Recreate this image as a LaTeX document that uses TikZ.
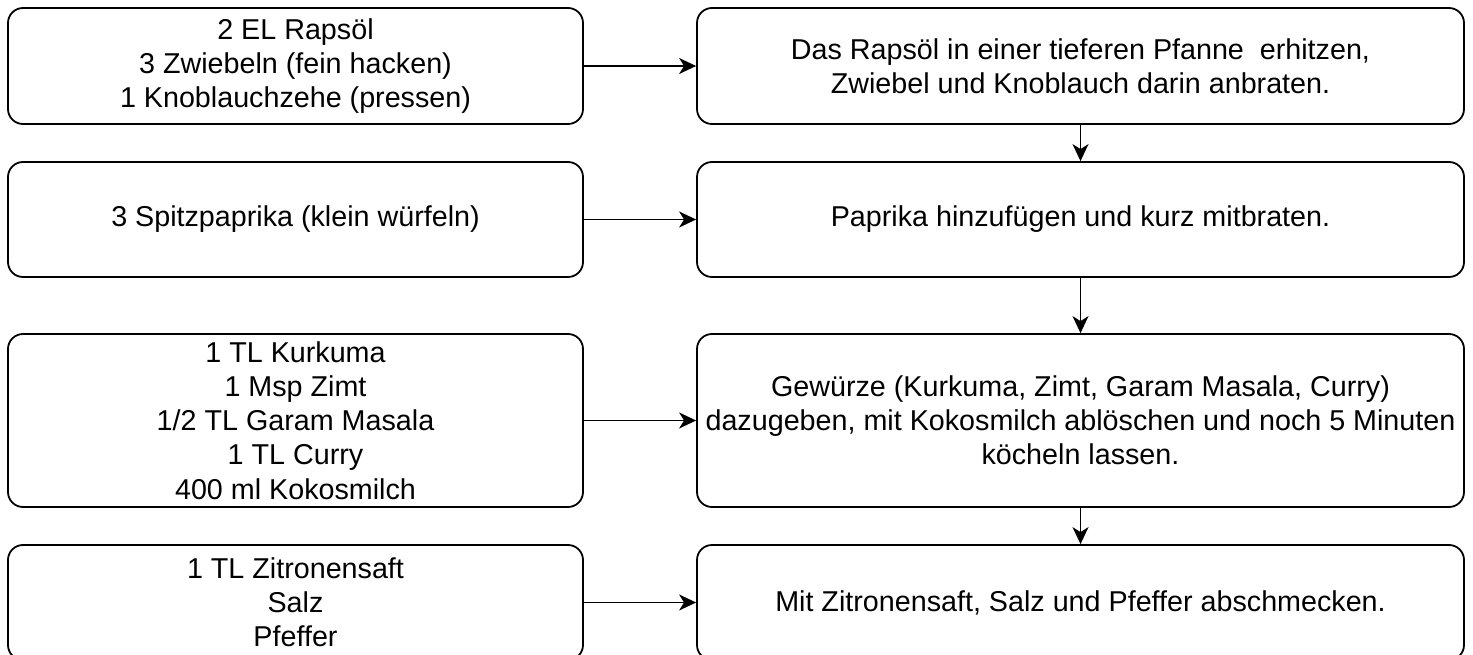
\documentclass[tikz,border=0pt]{standalone}
\usepackage{fontspec}
\setmainfont{Liberation Sans}
\usetikzlibrary{arrows.meta}
\begin{document}
\begin{tikzpicture}[x=1pt,y=-1pt,
  box/.style={draw, line width=1.8pt, rounded corners=15pt, align=center, inner sep=0pt,
    font=\fontsize{28.7}{34.2}\selectfont, minimum width=575pt},
  rbox/.style={box, minimum width=767pt},
  arr/.style={-{Stealth[length=17pt,width=16pt,inset=5pt]}, line width=1.8pt}]
\useasboundingbox (0,0) rectangle (1473,655);
\node[box, minimum height=116pt] (l1) at (295.5,66) {2 EL Rapsöl\\3 Zwiebeln (fein hacken)\\1 Knoblauchzehe (pressen)};
\node[box, minimum height=115pt] (l2) at (295.5,219.5) {3 Spitzpaprika (klein würfeln)};
\node[box, minimum height=173pt] (l3) at (295.5,420.5) {1 TL Kurkuma\\1 Msp Zimt\\1/2 TL Garam Masala\\1 TL Curry\\400 ml Kokosmilch};
\node[box, minimum height=115pt] (l4) at (295.5,602.5) {1 TL Zitronensaft\\Salz\\Pfeffer};
\node[rbox, minimum height=116pt] (r1) at (1080.5,66) {Das Rapsöl in einer tieferen Pfanne~ erhitzen,\\Zwiebel und Knoblauch darin anbraten.};
\node[rbox, minimum height=115pt] (r2) at (1080.5,219.5) {Paprika hinzufügen und kurz mitbraten.};
\node[rbox, minimum height=173pt] (r3) at (1080.5,420.5) {Gewürze (Kurkuma, Zimt, Garam Masala, Curry)\\dazugeben, mit Kokosmilch ablöschen und noch 5 Minuten\\köcheln lassen.};
\node[rbox, minimum height=115pt] (r4) at (1080.5,602.5) {Mit Zitronensaft, Salz und Pfeffer abschmecken.};
\draw[arr] (l1) -- (r1);
\draw[arr] (l2) -- (r2);
\draw[arr] (l3) -- (r3);
\draw[arr] (l4) -- (r4);
\draw[arr] (r1) -- (r2);
\draw[arr] (r2) -- (r3);
\draw[arr] (r3) -- (r4);
\end{tikzpicture}
\end{document}
